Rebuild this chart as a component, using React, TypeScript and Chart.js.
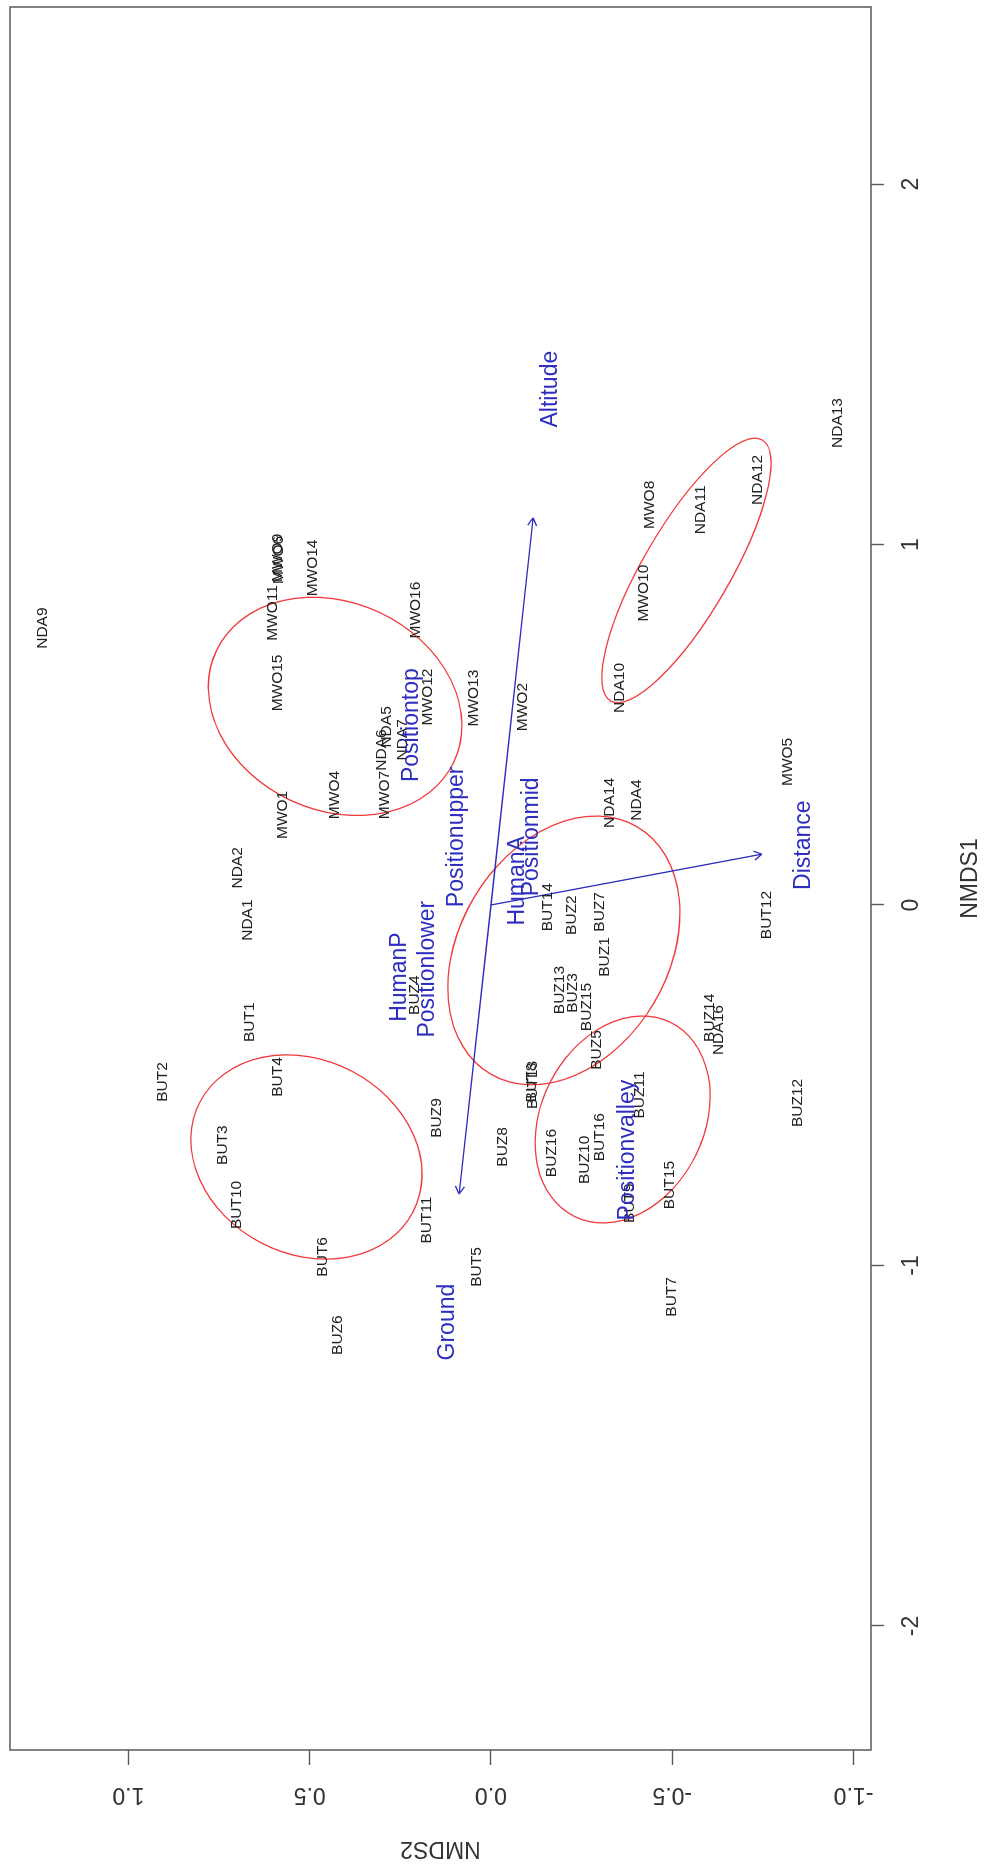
import React, { useEffect, useRef } from "react";
import { Chart, registerables } from "chart.js";

Chart.register(...registerables);

const FONT = "'Liberation Sans', Arial, sans-serif";

// ---- site scores (NMDS1, NMDS2) ----
const SITE_LABELS = [
  "NDA9", "NDA13", "NDA12", "NDA11", "MWO8", "MWO10", "NDA10", "MWO11", "MWO9", "MWO6",
  "MWO14", "MWO16", "MWO15", "MWO12", "NDA5", "NDA6", "MWO7", "MWO4", "MWO1", "MWO13",
  "MWO2", "NDA14", "NDA4", "MWO5", "BUT12", "BUZ14", "NDA16", "BUZ12", "BUT14", "BUZ2",
  "BUZ7", "BUZ1", "BUZ13", "BUZ3", "BUZ15", "BUZ5", "BUZ4", "NDA2", "NDA1", "BUT1",
  "BUT2", "BUT4", "BUT3", "BUT10", "BUT6", "BUZ6", "BUZ9", "BUT11", "BUT5", "BUZ8",
  "BUT13", "BUZ16", "BUZ10", "BUT16", "BUZ11", "BUT15", "BUT7", "BUT8", "BUT9", "NDA7",
];
const SITE_NMDS1 = [
  0.768, 1.337, 1.179, 1.096, 1.110, 0.865, 0.602, 0.810, 0.963, 0.957,
  0.935, 0.818, 0.616, 0.577, 0.494, 0.430, 0.305, 0.305, 0.250, 0.574,
  0.549, 0.283, 0.291, 0.397, -0.028, -0.313, -0.347, -0.549, -0.006, -0.028,
  -0.019, -0.144, -0.236, -0.244, -0.283, -0.402, -0.250, 0.103, -0.042, -0.325,
  -0.491, -0.477, -0.666, -0.832, -0.976, -1.193, -0.591, -0.874, -1.004, -0.671,
  -0.499, -0.688, -0.707, -0.644, -0.527, -0.777, -1.087, -0.492, -0.827, 0.458,
];
const SITE_NMDS2 = [
  1.236, -0.957, -0.736, -0.579, -0.438, -0.422, -0.356, 0.601, 0.587, 0.585,
  0.491, 0.207, 0.587, 0.174, 0.287, 0.301, 0.292, 0.430, 0.574, 0.047,
  -0.088, -0.328, -0.403, -0.819, -0.761, -0.604, -0.629, -0.847, -0.157, -0.223,
  -0.301, -0.314, -0.190, -0.226, -0.265, -0.292, 0.210, 0.698, 0.670, 0.665,
  0.905, 0.587, 0.739, 0.700, 0.463, 0.422, 0.149, 0.177, 0.039, -0.033,
  -0.116, -0.168, -0.259, -0.301, -0.411, -0.494, -0.499, -0.112, -0.383, 0.243,
];

// ---- factor centroids ----
const FACTOR_LABELS = [
  "Positiontop", "Positionupper", "Positionmid", "HumanA", "HumanP", "Positionlower", "Positionvalley",
];
const FACTOR_NMDS1 = [0.499, 0.189, 0.189, 0.067, -0.200, -0.178, -0.680];
const FACTOR_NMDS2 = [0.218, 0.094, -0.113, -0.074, 0.251, 0.174, -0.378];

// ---- fitted vectors ----
const VECTOR_LABELS = ["Altitude", "Distance", "Ground"];
const VECTOR_TIP_NMDS1 = [1.074, 0.141, -0.802];
const VECTOR_TIP_NMDS2 = [-0.116, -0.747, 0.088];
const VECTOR_LABEL_NMDS1 = [1.431, 0.166, -1.157];
const VECTOR_LABEL_NMDS2 = [-0.165, -0.863, 0.119];
const VECTOR_ORIGIN = [0, 0];

// ---- group ellipses ----
const ELLIPSE_CENTER_NMDS1 = [0.551, 0.928, -0.126, -0.595, -0.699];
const ELLIPSE_CENTER_NMDS2 = [0.430, -0.539, -0.201, -0.363, 0.509];
const ELLIPSE_MAJOR = [0.362, 0.418, 0.398, 0.300, 0.331];
const ELLIPSE_MINOR = [0.288, 0.120, 0.288, 0.225, 0.269];
const ELLIPSE_ANGLE_DEG = [64.8, -30.0, -30.5, -26.1, 62.5];

// ---- axes ----
const NMDS1_RANGE = [-2.344, 2.491];
const NMDS2_RANGE = [-1.048, 1.3265];
const NMDS1_TICKS = [-2, -1, 0, 1, 2];
const NMDS1_TICK_LABELS = ["-2", "-1", "0", "1", "2"];
const NMDS2_TICKS = [-1, -0.5, 0, 0.5, 1];
const NMDS2_TICK_LABELS = ["-1.0", "-0.5", "0.0", "0.5", "1.0"];

const BLUE = "#2d2dc0";
const RED = "#f23a3a";
const INK = "#222222";
const AXIS = "#5a5a5a";

const CW = 1865;
const CH = 984;

const overlayPlugin = {
  id: "nmdsOverlay",
  afterDatasetsDraw(chart: any) {
    const ctx = chart.ctx as CanvasRenderingContext2D;
    const xs = chart.scales.x;
    const ys = chart.scales.y;

    // ellipses
    for (let i = 0; i < ELLIPSE_CENTER_NMDS1.length; i++) {
      const cx = xs.getPixelForValue(ELLIPSE_CENTER_NMDS1[i]);
      const cy = ys.getPixelForValue(ELLIPSE_CENTER_NMDS2[i]);
      const kx = xs.getPixelForValue(ELLIPSE_CENTER_NMDS1[i] + 1) - cx;
      const ky = ys.getPixelForValue(ELLIPSE_CENTER_NMDS2[i] + 1) - cy;
      ctx.save();
      ctx.beginPath();
      ctx.translate(cx, cy);
      ctx.scale(kx, ky);
      ctx.rotate((ELLIPSE_ANGLE_DEG[i] * Math.PI) / 180);
      ctx.ellipse(0, 0, ELLIPSE_MAJOR[i], ELLIPSE_MINOR[i], 0, 0, Math.PI * 2);
      ctx.restore();
      ctx.save();
      ctx.strokeStyle = RED;
      ctx.lineWidth = 1.3;
      ctx.stroke();
      ctx.restore();
    }

    // arrows
    const ox = xs.getPixelForValue(VECTOR_ORIGIN[0]);
    const oy = ys.getPixelForValue(VECTOR_ORIGIN[1]);
    const tipMeta = chart.getDatasetMeta(2);
    ctx.save();
    ctx.strokeStyle = BLUE;
    ctx.lineWidth = 1.3;
    tipMeta.data.forEach((el: any) => {
      const tx = el.x;
      const ty = el.y;
      ctx.beginPath();
      ctx.moveTo(ox, oy);
      ctx.lineTo(tx, ty);
      const ang = Math.atan2(ty - oy, tx - ox);
      const len = 9;
      const spread = Math.PI / 6;
      ctx.moveTo(tx, ty);
      ctx.lineTo(tx - len * Math.cos(ang - spread), ty - len * Math.sin(ang - spread));
      ctx.moveTo(tx, ty);
      ctx.lineTo(tx - len * Math.cos(ang + spread), ty - len * Math.sin(ang + spread));
      ctx.stroke();
    });
    ctx.restore();

    // text labels
    chart.data.datasets.forEach((ds: any, di: number) => {
      if (!ds.textLabels) return;
      const meta = chart.getDatasetMeta(di);
      ctx.save();
      ctx.font = ds.textFont;
      ctx.fillStyle = ds.textColor;
      ctx.textAlign = "center";
      ctx.textBaseline = "middle";
      meta.data.forEach((el: any, i: number) => {
        ctx.fillText(ds.textLabels[i], el.x, el.y);
      });
      ctx.restore();
    });

    // box
    const a = chart.chartArea;
    ctx.save();
    ctx.strokeStyle = AXIS;
    ctx.lineWidth = 1.5;
    ctx.strokeRect(a.left, a.top, a.right - a.left, a.bottom - a.top);
    ctx.restore();
  },
};

function toPoints(xv: number[], yv: number[]) {
  return xv.map((x, i) => ({ x, y: yv[i] }));
}

export default function App() {
  const ref = useRef<HTMLCanvasElement | null>(null);

  useEffect(() => {
    if (!ref.current) return;
    const chart = new Chart(ref.current, {
      type: "scatter",
      data: {
        datasets: [
          {
            label: "sites",
            data: toPoints(SITE_NMDS1, SITE_NMDS2),
            pointRadius: 0,
            textLabels: SITE_LABELS,
            textFont: `15.5px ${FONT}`,
            textColor: INK,
          } as any,
          {
            label: "factors",
            data: toPoints(FACTOR_NMDS1, FACTOR_NMDS2),
            pointRadius: 0,
            textLabels: FACTOR_LABELS,
            textFont: `23px ${FONT}`,
            textColor: BLUE,
          } as any,
          {
            label: "vector tips",
            data: toPoints(VECTOR_TIP_NMDS1, VECTOR_TIP_NMDS2),
            pointRadius: 0,
          } as any,
          {
            label: "vector labels",
            data: toPoints(VECTOR_LABEL_NMDS1, VECTOR_LABEL_NMDS2),
            pointRadius: 0,
            textLabels: VECTOR_LABELS,
            textFont: `23px ${FONT}`,
            textColor: BLUE,
          } as any,
        ],
      },
      options: {
        responsive: false,
        animation: false,
        devicePixelRatio: 1,
        events: [],
        layout: { padding: { top: 10, right: 7, left: 0, bottom: 0 } },
        plugins: { legend: { display: false }, tooltip: { enabled: false } },
        scales: {
          x: {
            type: "linear",
            position: "bottom",
            min: NMDS1_RANGE[0],
            max: NMDS1_RANGE[1],
            bounds: "data",
            afterBuildTicks: (s: any) => {
              s.ticks = NMDS1_TICKS.map((v) => ({ value: v }));
            },
            afterFit: (s: any) => {
              s.height = 113;
              s.paddingLeft = 0;
              s.paddingRight = 0;
            },
            grid: {
              display: true,
              drawOnChartArea: false,
              drawTicks: true,
              tickLength: 13,
              tickColor: AXIS,
              tickWidth: 1.4,
              color: AXIS,
            },
            border: { display: false },
            ticks: {
              autoSkip: false,
              maxRotation: 0,
              padding: 14,
              color: "#333333",
              font: { family: FONT, size: 23 },
              callback: (_v: any, i: number) => NMDS1_TICK_LABELS[i],
            },
            title: {
              display: true,
              text: "NMDS1",
              color: "#333333",
              font: { family: FONT, size: 23 },
              padding: { top: 0, bottom: 0 },
            },
          },
          y: {
            type: "linear",
            position: "left",
            min: NMDS2_RANGE[0],
            max: NMDS2_RANGE[1],
            bounds: "data",
            afterBuildTicks: (s: any) => {
              s.ticks = NMDS2_TICKS.map((v) => ({ value: v }));
            },
            afterFit: (s: any) => {
              s.width = 115;
              s.paddingTop = 0;
              s.paddingBottom = 0;
            },
            grid: {
              display: true,
              drawOnChartArea: false,
              drawTicks: true,
              tickLength: 15,
              tickColor: AXIS,
              tickWidth: 1.4,
              color: AXIS,
            },
            border: { display: false },
            ticks: {
              autoSkip: false,
              minRotation: 90,
              maxRotation: 90,
              crossAlign: "center",
              padding: 10,
              color: "#333333",
              font: { family: FONT, size: 23 },
              callback: (_v: any, i: number) => NMDS2_TICK_LABELS[i],
            },
            title: {
              display: true,
              text: "NMDS2",
              color: "#333333",
              font: { family: FONT, size: 23 },
              padding: { top: 3, bottom: 0 },
            },
          },
        },
      } as any,
      plugins: [overlayPlugin],
    });
    return () => chart.destroy();
  }, []);

  return (
    <div
      style={{
        position: "absolute",
        left: 0,
        top: 0,
        width: CH,
        height: CW,
        overflow: "hidden",
        background: "#ffffff",
      }}
    >
      <div
        style={{
          position: "absolute",
          left: 0,
          top: 0,
          width: CW,
          height: CH,
          transformOrigin: "0 0",
          transform: `translateY(${CW}px) rotate(-90deg)`,
        }}
      >
        <canvas ref={ref} width={CW} height={CH} style={{ display: "block", width: CW, height: CH }} />
      </div>
    </div>
  );
}
